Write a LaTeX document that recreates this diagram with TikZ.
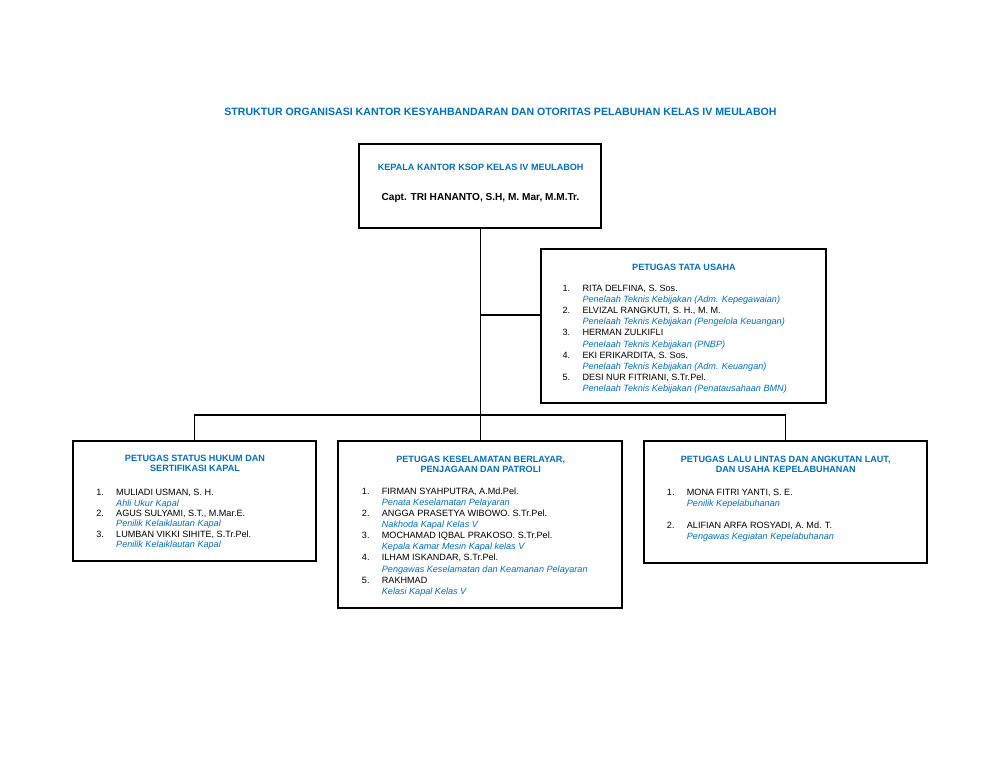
\documentclass[tikz,border=0pt]{standalone}
\usepackage{fontspec}
\setmainfont{Liberation Sans}
\usetikzlibrary{positioning}

\definecolor{ksopblue}{RGB}{0,112,192}

% one member of a unit: number, name, and the post in blue italics
\newcommand{\staff}[3]{#1 & #2\\ & \textcolor{ksopblue}{\itshape #3}\\}

\tikzset{
	unitbox/.style 2 args={draw, line width=1.1pt, minimum width=#1*0.792pt, minimum height=#2*0.792pt, inner sep=0},
	doctitle/.style={anchor=base, inner sep=0, text=ksopblue, font=\fontsize{8.4}{10}\selectfont\bfseries},
	unithead/.style={anchor=base, inner sep=0, text=ksopblue, font=\fontsize{7.2}{7.9}\selectfont\bfseries},
	stafflist/.style={anchor=base west, inner sep=0, font=\fontsize{7.2}{#1}\selectfont},
	stafflist/.default=8.77pt,
	link/.style={line width=0.8pt}
}

\begin{document}
\begin{tikzpicture}[x=0.792pt, y=-0.792pt]
		%page
		\useasboundingbox (0,0) rectangle (1000,773);
		
		\node[doctitle] (judul) at (500.5,115.9) {STRUKTUR ORGANISASI KANTOR KESYAHBANDARAN DAN OTORITAS PELABUHAN KELAS IV MEULABOH};
		
		%boxes
		\node[unitbox={242}{84}] (kepala) at (480,186) {};
		\node[unitbox={285}{154}] (tatausaha) at (683.5,326) {};
		\node[unitbox={243}{120}] (hukum) at (194.5,501) {};
		\node[unitbox={284}{167}] (keselamatan) at (480,524.5) {};
		\node[unitbox={283}{122}] (lalulintas) at (785.5,502) {};
		
		\coordinate (bus) at (480,415);
		\coordinate (tata join) at (480,315);
		
		%connectors
		\draw [link] (kepala.south) -- (keselamatan.north);
		\draw [link] (hukum.north) |- (bus) -| (lalulintas.north);
		\draw [link] (tata join) -- (tata join -| tatausaha.west);
		
		%head of office
		\node[unithead] (kepala head) at (480.7,170.2) {KEPALA KANTOR KSOP KELAS IV MEULABOH};
		\node[anchor=base, inner sep=0, font=\fontsize{8}{9.6}\selectfont\bfseries] (kepala name) at (480.5,200.5) {Capt. TRI HANANTO, S.H, M. Mar, M.M.Tr.};
		
		%tata usaha
		\node[unithead] (tatausaha head) at (684,270.2) {PETUGAS TATA USAHA};
		\node[stafflist] (tatausaha list) at (562.3,291.7) {\begin{tabular}[t]{@{}p{15.8pt}@{}l@{}}
			\staff{1.}{RITA DELFINA, S. Sos.}{Penelaah Teknis Kebijakan (Adm. Kepegawaian)}
			\staff{2.}{ELVIZAL RANGKUTI, S. H., M. M.}{Penelaah Teknis Kebijakan (Pengelola Keuangan)}
			\staff{3.}{HERMAN ZULKIFLI}{Penelaah Teknis Kebijakan (PNBP)}
			\staff{4.}{EKI ERIKARDITA, S. Sos.}{Penelaah Teknis Kebijakan (Adm. Keuangan)}
			\staff{5.}{DESI NUR FITRIANI, S.Tr.Pel.}{Penelaah Teknis Kebijakan (Penatausahaan BMN)}
		\end{tabular}};
		
		%status hukum
		\node[unithead] (hukum head) at (195,461.9) {\begin{tabular}[t]{@{}c@{}}PETUGAS STATUS HUKUM DAN\\ SERTIFIKASI KAPAL\end{tabular}};
		\node[stafflist=8.24pt] (hukum list) at (96,495.7) {\begin{tabular}[t]{@{}p{15.8pt}@{}l@{}}
			\staff{1.}{MULIADI USMAN, S. H.}{Ahli Ukur Kapal}
			\staff{2.}{AGUS SULYAMI, S.T., M.Mar.E.}{Penilik Kelaiklautan Kapal}
			\staff{3.}{LUMBAN VIKKI SIHITE, S.Tr.Pel.}{Penilik Kelaiklautan Kapal}
		\end{tabular}};
		
		%keselamatan berlayar
		\node[unithead] (keselamatan head) at (480.7,462.4) {\begin{tabular}[t]{@{}c@{}}PETUGAS KESELAMATAN BERLAYAR,\\ PENJAGAAN DAN PATROLI\end{tabular}};
		\node[stafflist=8.79pt] (keselamatan list) at (361.7,494.4) {\begin{tabular}[t]{@{}p{15.8pt}@{}l@{}}
			\staff{1.}{FIRMAN SYAHPUTRA, A.Md.Pel.}{Penata Keselamatan Pelayaran}
			\staff{2.}{ANGGA PRASETYA WIBOWO. S.Tr.Pel.}{Nakhoda Kapal Kelas V}
			\staff{3.}{MOCHAMAD IQBAL PRAKOSO. S.Tr.Pel.}{Kepala Kamar Mesin Kapal kelas V}
			\staff{4.}{ILHAM ISKANDAR, S.Tr.Pel.}{Pengawas Keselamatan dan Keamanan Pelayaran}
			\staff{5.}{RAKHMAD}{Kelasi Kapal Kelas V}
		\end{tabular}};
		
		%lalu lintas
		\node[unithead] (lalulintas head) at (785.7,462.4) {\begin{tabular}[t]{@{}c@{}}PETUGAS LALU LINTAS DAN ANGKUTAN LAUT,\\ DAN USAHA KEPELABUHANAN\end{tabular}};
		\node[stafflist=8.7pt] (lalulintas list) at (666.7,495.7) {\begin{tabular}[t]{@{}p{15.8pt}@{}l@{}}
			\staff{1.}{MONA FITRI YANTI, S. E.}{Penilik Kepelabuhanan}
			& \\
			\staff{2.}{ALIFIAN ARFA ROSYADI, A. Md. T.}{Pengawas Kegiatan Kepelabuhanan}
		\end{tabular}};

	\end{tikzpicture}
\end{document}
